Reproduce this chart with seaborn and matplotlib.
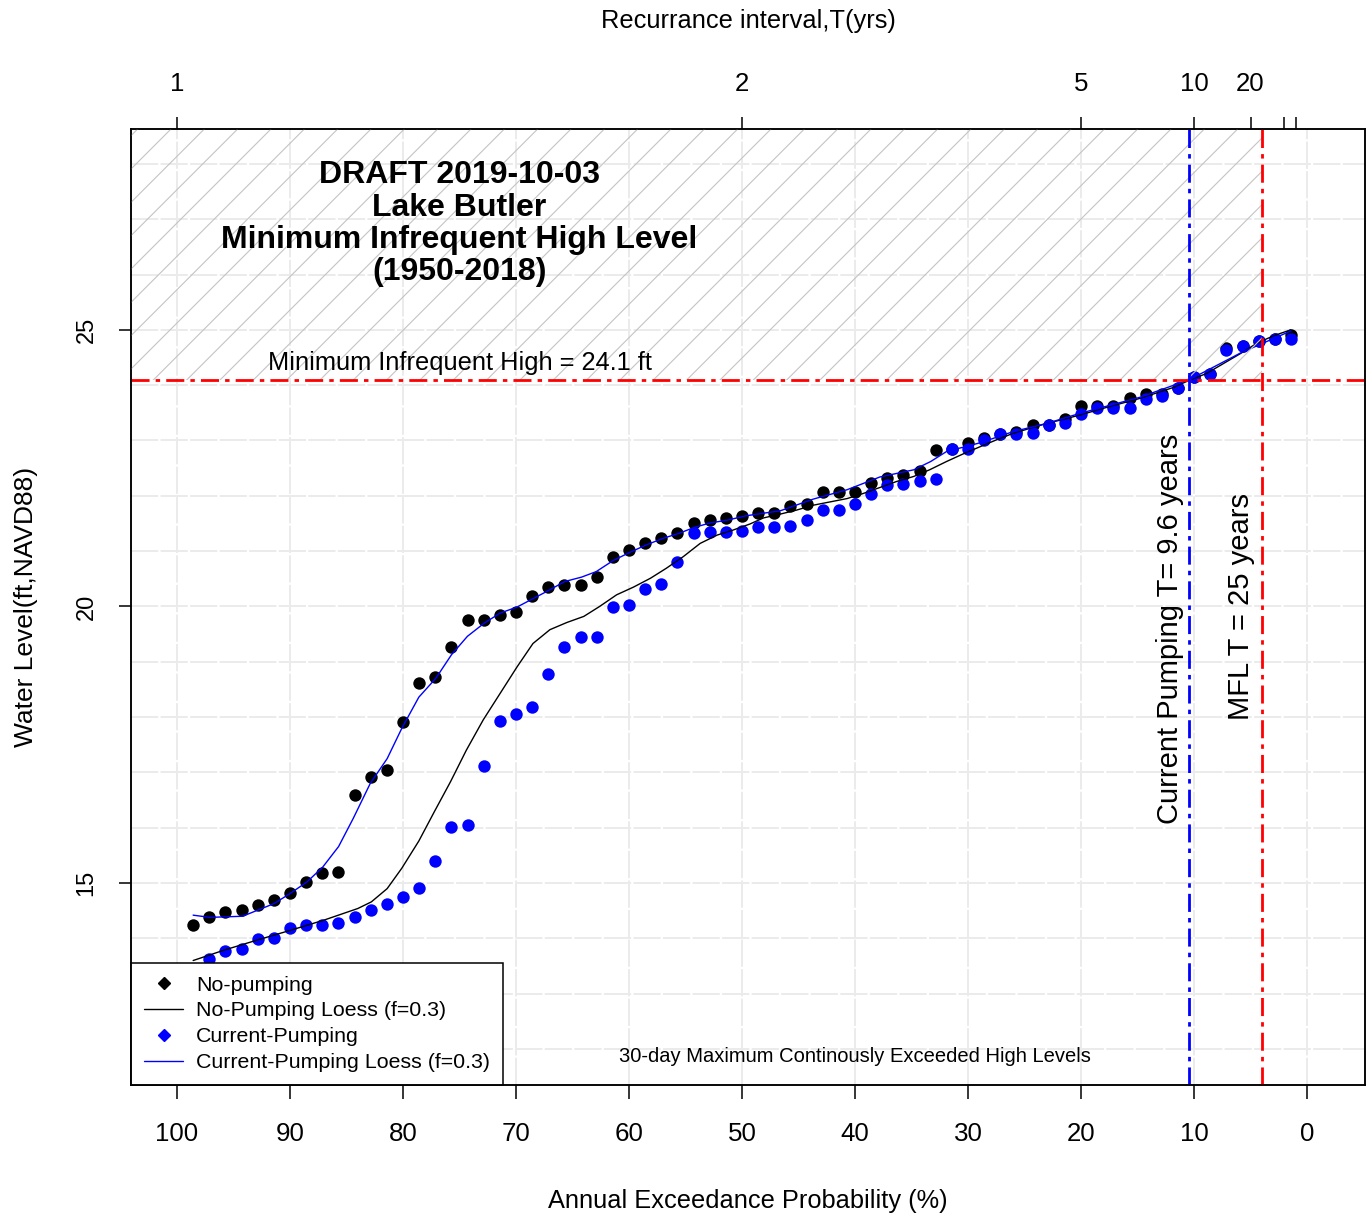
import matplotlib
matplotlib.use("Agg")
import matplotlib.pyplot as plt
from matplotlib.lines import Line2D
from matplotlib.ticker import MultipleLocator
import numpy as np
import pandas as pd
import seaborn as sns


# exceedance probability (%) of each ranked year (1950-2018, n=69)
exceed_prob = [
    1.43, 2.86, 4.29, 5.71, 7.14, 8.57, 10.00, 11.43, 12.86, 14.29,
    15.71, 17.14, 18.57, 20.00, 21.43, 22.86, 24.29, 25.71, 27.14, 28.57,
    30.00, 31.43, 32.86, 34.29, 35.71, 37.14, 38.57, 40.00, 41.43, 42.86,
    44.29, 45.71, 47.14, 48.57, 50.00, 51.43, 52.86, 54.29, 55.71, 57.14,
    58.57, 60.00, 61.43, 62.86, 64.29, 65.71, 67.14, 68.57, 70.00, 71.43,
    72.86, 74.29, 75.71, 77.14, 78.57, 80.00, 81.43, 82.86, 84.29, 85.71,
    87.14, 88.57, 90.00, 91.43, 92.86, 94.29, 95.71, 97.14, 98.57,
]

# 30-day maximum continuously exceeded high levels (ft, NAVD88)
no_pumping = [
    24.90, 24.83, 24.79, 24.71, 24.68, 24.20, 24.15, 23.94, 23.84, 23.84,
    23.76, 23.62, 23.62, 23.62, 23.38, 23.28, 23.28, 23.16, 23.12, 23.04,
    22.95, 22.85, 22.82, 22.45, 22.38, 22.33, 22.24, 22.06, 22.06, 22.06,
    21.85, 21.82, 21.69, 21.69, 21.63, 21.60, 21.56, 21.51, 21.32, 21.23,
    21.14, 21.02, 20.90, 20.53, 20.38, 20.38, 20.36, 20.18, 19.90, 19.84,
    19.75, 19.75, 19.27, 18.72, 18.61, 17.91, 17.04, 16.92, 16.59, 15.20,
    15.19, 15.02, 14.82, 14.69, 14.61, 14.51, 14.48, 14.39, 14.24,
]
current_pumping = [
    24.83, 24.83, 24.79, 24.71, 24.63, 24.20, 24.15, 23.94, 23.81, 23.75,
    23.59, 23.59, 23.59, 23.48, 23.31, 23.28, 23.13, 23.11, 23.11, 23.01,
    22.84, 22.84, 22.31, 22.26, 22.22, 22.19, 22.04, 21.86, 21.74, 21.74,
    21.56, 21.46, 21.43, 21.43, 21.36, 21.35, 21.34, 21.33, 20.80, 20.41,
    20.32, 20.02, 19.99, 19.45, 19.45, 19.27, 18.78, 18.18, 18.05, 17.93,
    17.12, 16.05, 16.02, 15.39, 14.91, 14.75, 14.63, 14.51, 14.39, 14.28,
    14.24, 14.24, 14.18, 14.00, 13.98, 13.80, 13.78, 13.63, 13.45,
]

# loess curves as they appear in the figure
loess_np_prob = [
    98.57, 95.8, 92.9, 89.9, 87.0, 84.0, 82.8, 81.4, 80.1, 78.6,
    77.2, 75.8, 74.4, 72.9, 71.4, 69.9, 68.5, 67.0, 65.5, 64.0,
    62.6, 61.1, 59.6, 58.1, 56.7, 55.2, 53.7, 52.2, 50.8, 49.3,
    48.1, 46.6, 45.2, 43.7, 42.2, 40.7, 39.3, 37.8, 36.3, 34.8,
    33.4, 31.9, 30.4, 28.9, 27.5, 26.0, 24.5, 23.0, 21.6, 20.1,
    17.7, 14.8, 11.8, 10.4, 8.9, 7.4, 5.9, 4.5, 3.0, 1.43,
]
loess_np = [
    13.60, 13.79, 13.97, 14.15, 14.33, 14.54, 14.66, 14.90, 15.27, 15.76,
    16.30, 16.83, 17.40, 17.95, 18.43, 18.91, 19.33, 19.58, 19.71, 19.82,
    20.00, 20.21, 20.35, 20.51, 20.69, 20.90, 21.14, 21.29, 21.38, 21.49,
    21.60, 21.67, 21.74, 21.83, 21.89, 21.95, 22.04, 22.15, 22.26, 22.35,
    22.47, 22.62, 22.76, 22.89, 23.01, 23.13, 23.22, 23.31, 23.38, 23.46,
    23.60, 23.76, 23.96, 24.09, 24.21, 24.39, 24.57, 24.75, 24.89, 25.00,
]
loess_cp_prob = [
    98.57, 97.1, 94.2, 91.4, 90.0, 88.5, 87.1, 85.7, 84.4, 82.9,
    81.4, 80.1, 78.6, 77.1, 75.7, 74.3, 72.8, 71.4, 69.9, 68.6,
    67.1, 65.7, 64.2, 62.9, 61.4, 59.9, 58.5, 57.0, 55.6, 54.2,
    52.8, 51.3, 49.6, 46.6, 43.7, 40.7, 37.8, 34.8, 33.3, 31.9,
    28.9, 26.0, 23.0, 20.1, 14.8, 10.4, 5.9, 1.43,
]
loess_cp = [
    14.42, 14.38, 14.40, 14.63, 14.81, 15.02, 15.29, 15.66, 16.17, 16.80,
    17.25, 17.80, 18.36, 18.70, 19.13, 19.46, 19.70, 19.88, 19.99, 20.13,
    20.29, 20.45, 20.53, 20.63, 20.83, 20.98, 21.11, 21.23, 21.32, 21.43,
    21.51, 21.56, 21.64, 21.73, 21.94, 22.11, 22.34, 22.47, 22.62, 22.80,
    22.96, 23.16, 23.31, 23.49, 23.78, 24.10, 24.58, 24.98,
]

return_periods = [1, 2, 5, 10, 20, 50, 100]
return_labels = ["1", "2", "5", "10", "20", "", ""]

MIH_LEVEL = 24.1
T_CURRENT = 9.6
T_MFL = 25

title_lines = ["DRAFT 2019-10-03", "Lake Butler",
               "Minimum Infrequent High Level", "(1950-2018)"]
legend_labels = ["No-pumping", "No-Pumping Loess (f=0.3)",
                 "Current-Pumping", "Current-Pumping Loess (f=0.3)"]


# %% style
sns.set_style("ticks")
plt.rcParams["font.family"] = ["Liberation Sans", "DejaVu Sans"]
plt.rcParams["text.color"] = "black"
plt.rcParams["axes.labelcolor"] = "black"
plt.rcParams["hatch.color"] = "#c4c4c4"
plt.rcParams["hatch.linewidth"] = 0.8

XLIM = (104.07, -5.13)
YLIM = (11.35, 28.63)

fig = plt.figure(figsize=(13.7, 12.16), dpi=100)
ax = fig.add_axes([131 / 1370, 1 - 1085 / 1216, (1365 - 131) / 1370, (1085 - 129) / 1216])

pts = pd.DataFrame({"prob": exceed_prob, "np": no_pumping, "cp": current_pumping})

sns.scatterplot(data=pts, x="prob", y="np", color="black", s=80, linewidth=0,
                ax=ax, zorder=3, legend=False)
sns.scatterplot(data=pts, x="prob", y="cp", color="#0000ff", s=80, linewidth=0,
                ax=ax, zorder=3, legend=False)
sns.lineplot(x=loess_np_prob, y=loess_np, color="black", lw=1.0, sort=False,
             estimator=None, ax=ax, zorder=4)
sns.lineplot(x=loess_cp_prob, y=loess_cp, color="#0000ff", lw=1.0, sort=False,
             estimator=None, ax=ax, zorder=4)

# hatched zone above the MIH level, up to the MFL return period
ax.fill_between([XLIM[0], 100 / T_MFL], MIH_LEVEL, YLIM[1], facecolor="none",
                edgecolor="#c4c4c4", hatch="/", linewidth=0, zorder=5)

dashdot = (0, (6.5, 2.2, 1.6, 2.2))
ax.axhline(MIH_LEVEL, color="#ff0000", lw=2.0, ls=dashdot, zorder=6)
ax.axvline(100 / T_CURRENT, color="#0000ff", lw=2.0, ls=dashdot, zorder=6)
ax.axvline(100 / T_MFL, color="#ff0000", lw=2.0, ls=dashdot, zorder=6)

# %% texts
for line, yy in zip(title_lines, [27.80, 27.21, 26.63, 26.04]):
    ax.text(75, yy, line, ha="center", va="center", fontsize=23,
            fontweight="bold", zorder=7)
ax.text(75, 24.40, f"Minimum Infrequent High = {MIH_LEVEL} ft", ha="center",
        va="center", fontsize=18.3, zorder=7)
ax.text(12.1, 19.6, f"Current Pumping T= {T_CURRENT} years", rotation=90,
        ha="center", va="center", fontsize=21, zorder=7)
ax.text(5.85, 20.0, f"MFL T = {T_MFL} years", rotation=90,
        ha="center", va="center", fontsize=21, zorder=7)
ax.text(40, 11.87, "30-day Maximum Continously Exceeded High Levels",
        ha="center", va="center", fontsize=14.5, zorder=7)

# %% axes
ax.set_xlim(XLIM)
ax.set_ylim(YLIM)
ax.xaxis.set_major_locator(MultipleLocator(10))
ax.yaxis.set_major_locator(MultipleLocator(5))
ax.yaxis.set_minor_locator(MultipleLocator(1))
ax.set_axisbelow(True)
ax.grid(which="both", color="#ebebeb", lw=1.4, ls=(0, (14, 1.2)))

ax.tick_params(axis="x", direction="out", length=10, width=1.1, pad=16.5,
               labelsize=18.6, colors="black")
ax.tick_params(axis="y", which="major", direction="out", length=9, width=1.1,
               pad=15, labelsize=17, labelrotation=90, colors="black")
ax.tick_params(axis="y", which="minor", length=0)
for lab in ax.get_yticklabels():
    lab.set_va("center")

for sp in ax.spines.values():
    sp.set_color("black")
    sp.set_linewidth(1.1)

ax.set_xlabel("Annual Exceedance Probability (%)", fontsize=18.3, labelpad=31)
ax.set_ylabel("Water Level(ft,NAVD88)", fontsize=19, labelpad=27)

ax_top = ax.twiny()
ax_top.set_xlim(XLIM)
ax_top.set_xticks([100 / t for t in return_periods])
ax_top.set_xticklabels(return_labels)
ax_top.tick_params(axis="x", direction="out", length=9, width=1.1, pad=14.5,
                   labelsize=18.6, colors="black")
ax_top.set_xlabel("Recurrance interval,T(yrs)", fontsize=18.3, labelpad=32)
for sp in ax_top.spines.values():
    sp.set_color("black")
    sp.set_linewidth(1.1)

handles = [
    Line2D([], [], color="black", marker="D", ls="none", markersize=6),
    Line2D([], [], color="black", lw=1.0),
    Line2D([], [], color="#0000ff", marker="D", ls="none", markersize=6),
    Line2D([], [], color="#0000ff", lw=1.0),
]
leg = ax.legend(handles, legend_labels, loc="lower left", bbox_to_anchor=(0, 0),
                borderaxespad=0, fontsize=15.4, frameon=True, fancybox=False,
                framealpha=1, edgecolor="black", handlelength=1.85,
                handletextpad=0.6, labelspacing=0.32, borderpad=0.6)
leg.get_frame().set_linewidth(1.1)
leg.set_zorder(10)

fig.savefig("out.png", dpi=100)
